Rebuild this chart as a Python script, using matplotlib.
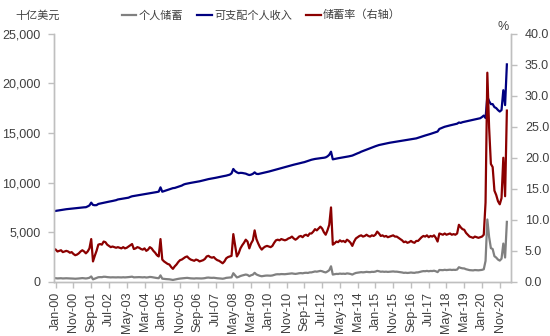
import matplotlib
matplotlib.use("Agg")
import matplotlib.pyplot as plt
import matplotlib.ticker as mticker
from matplotlib.lines import Line2D
import pandas as pd

# Monthly series, Jan 2000 - Mar 2021
months = pd.date_range("2000-01-01", periods=255, freq="MS")

# Personal saving, billions of USD (SAAR)
personal_saving = [
    372, 352, 361, 369, 348, 357, 366, 360, 346, 355, 333, 319,
    328, 344, 367, 383, 368, 346, 372, 416, 551, 256, 324, 387,
    471, 481, 476, 518, 513, 483, 469, 454, 465, 459, 453, 465,
    458, 451, 469, 454, 464, 483, 505, 526, 458, 469, 488, 481,
    465, 458, 477, 443, 462, 500, 484, 450, 423, 389, 373, 657,
    327, 302, 285, 269, 261, 225, 198, 237, 267, 307, 337, 349,
    372, 394, 406, 378, 359, 350, 341, 362, 353, 334, 346, 357,
    380, 423, 437, 415, 406, 418, 388, 368, 359, 339, 319, 352,
    407, 430, 443, 459, 875, 658, 452, 504, 593, 647, 689, 741,
    703, 581, 670, 729, 915, 751, 673, 610, 569, 604, 628, 641,
    633, 625, 650, 709, 758, 772, 764, 790, 782, 775, 790, 816,
    832, 859, 826, 805, 832, 871, 887, 865, 905, 921, 901, 956,
    959, 1000, 1052, 1029, 1069, 1109, 1073, 1000, 953, 1049, 1178, 1573,
    740, 768, 807, 797, 836, 813, 828, 805, 857, 834, 799, 738,
    832, 902, 932, 963, 983, 962, 981, 1013, 992, 983, 1016, 1006,
    1038, 1111, 1075, 1023, 1040, 1015, 1032, 1007, 1023, 1039, 1055, 1029,
    1031, 1005, 978, 952, 911, 928, 901, 917, 946, 921, 911, 954,
    958, 1005, 1053, 1086, 1076, 1109, 1069, 1103, 1092, 1127, 1071, 984,
    1201, 1192, 1182, 1218, 1191, 1210, 1229, 1201, 1220, 1207, 1243, 1477,
    1409, 1367, 1354, 1277, 1231, 1186, 1172, 1159, 1194, 1181, 1167, 1187,
    1212, 1273, 2112, 6285, 4532, 3401, 3312, 2587, 2450, 2249, 2144, 2336,
    3860, 2456, 6044,
]

# Disposable personal income, billions of USD (SAAR)
disposable_income = [
    7150, 7180, 7210, 7240, 7260, 7290, 7320, 7340, 7360, 7390, 7400, 7420,
    7450, 7470, 7490, 7500, 7510, 7520, 7600, 7700, 7980, 7750, 7720, 7730,
    7850, 7890, 7930, 7970, 8010, 8050, 8080, 8110, 8150, 8190, 8230, 8300,
    8330, 8350, 8380, 8410, 8440, 8480, 8560, 8620, 8650, 8680, 8720, 8750,
    8770, 8800, 8830, 8860, 8890, 8930, 8960, 8990, 9010, 9050, 9090, 9520,
    9080, 9140, 9200, 9260, 9320, 9380, 9440, 9460, 9520, 9580, 9640, 9700,
    9800, 9860, 9900, 9940, 9970, 10000, 10030, 10060, 10090, 10130, 10170, 10210,
    10260, 10310, 10350, 10380, 10410, 10450, 10480, 10520, 10560, 10600, 10630, 10660,
    10700, 10750, 10800, 10930, 11370, 11150, 11030, 10950, 10980, 10970, 10930, 10900,
    10820, 10760, 10800, 10880, 11030, 10880, 10860, 10900, 10940, 10980, 11020, 11060,
    11110, 11160, 11200, 11260, 11310, 11350, 11400, 11450, 11500, 11560, 11610, 11660,
    11720, 11770, 11800, 11840, 11880, 11930, 11980, 12020, 12060, 12120, 12180, 12250,
    12300, 12340, 12380, 12400, 12430, 12460, 12480, 12500, 12540, 12640, 12800, 13110,
    12340, 12380, 12420, 12450, 12480, 12510, 12540, 12580, 12610, 12640, 12680, 12720,
    12800, 12880, 12950, 13020, 13110, 13180, 13260, 13330, 13400, 13470, 13540, 13600,
    13660, 13720, 13780, 13820, 13860, 13900, 13940, 13980, 14010, 14040, 14070, 14100,
    14120, 14150, 14180, 14210, 14240, 14270, 14300, 14330, 14360, 14390, 14420, 14450,
    14510, 14570, 14620, 14680, 14740, 14790, 14850, 14900, 14960, 15020, 15080, 15140,
    15400, 15480, 15550, 15620, 15670, 15720, 15760, 15800, 15840, 15880, 15930, 16050,
    16010, 16080, 16120, 16160, 16200, 16240, 16280, 16320, 16360, 16400, 16440, 16480,
    16600, 16750, 16500, 18650, 18200, 17900, 17900, 17600, 17500, 17300, 17150, 17300,
    19300, 17800, 21900,
]

# Personal saving rate, % (right axis)
saving_rate = [
    5.2, 4.9, 5.0, 5.1, 4.8, 4.9, 5.0, 4.9, 4.7, 4.8, 4.5, 4.3,
    4.4, 4.6, 4.9, 5.1, 4.9, 4.6, 4.9, 5.4, 6.9, 3.3, 4.2, 5.0,
    6.0, 6.1, 6.0, 6.5, 6.4, 6.0, 5.8, 5.6, 5.7, 5.6, 5.5, 5.6,
    5.5, 5.4, 5.6, 5.4, 5.5, 5.7, 5.9, 6.1, 5.3, 5.4, 5.6, 5.5,
    5.3, 5.2, 5.4, 5.0, 5.2, 5.6, 5.4, 5.0, 4.7, 4.3, 4.1, 6.9,
    3.6, 3.3, 3.1, 2.9, 2.8, 2.4, 2.1, 2.5, 2.8, 3.2, 3.5, 3.6,
    3.8, 4.0, 4.1, 3.8, 3.6, 3.5, 3.4, 3.6, 3.5, 3.3, 3.4, 3.5,
    3.7, 4.1, 4.2, 4.0, 3.9, 4.0, 3.7, 3.5, 3.4, 3.2, 3.0, 3.3,
    3.8, 4.0, 4.1, 4.2, 7.7, 5.9, 4.1, 4.6, 5.4, 5.9, 6.3, 6.8,
    6.5, 5.4, 6.2, 6.7, 8.3, 6.9, 6.2, 5.6, 5.2, 5.5, 5.7, 5.8,
    5.7, 5.6, 5.8, 6.3, 6.7, 6.8, 6.7, 6.9, 6.8, 6.7, 6.8, 7.0,
    7.1, 7.3, 7.0, 6.8, 7.0, 7.3, 7.4, 7.2, 7.5, 7.6, 7.4, 7.8,
    7.8, 8.1, 8.5, 8.3, 8.6, 8.9, 8.6, 8.0, 7.6, 8.3, 9.2, 12.0,
    6.0, 6.2, 6.5, 6.4, 6.7, 6.5, 6.6, 6.4, 6.8, 6.6, 6.3, 5.8,
    6.5, 7.0, 7.2, 7.4, 7.5, 7.3, 7.4, 7.6, 7.4, 7.3, 7.5, 7.4,
    7.6, 8.1, 7.8, 7.4, 7.5, 7.3, 7.4, 7.2, 7.3, 7.4, 7.5, 7.3,
    7.3, 7.1, 6.9, 6.7, 6.4, 6.5, 6.3, 6.4, 6.6, 6.4, 6.3, 6.6,
    6.6, 6.9, 7.2, 7.4, 7.3, 7.5, 7.2, 7.4, 7.3, 7.5, 7.1, 6.5,
    7.8, 7.7, 7.6, 7.8, 7.6, 7.7, 7.8, 7.6, 7.7, 7.6, 7.8, 9.2,
    8.8, 8.5, 8.4, 7.9, 7.6, 7.3, 7.2, 7.1, 7.3, 7.2, 7.1, 7.2,
    7.3, 7.6, 12.8, 33.7, 24.9, 19.0, 18.5, 14.7, 14.0, 13.0, 12.5, 13.5,
    20.0, 13.8, 27.6,
]

series_names = ["个人储蓄", "可支配个人收入", "储蓄率（右轴）"]
left_unit = "十亿美元"
right_unit = "%"
tick_every = 10
tick_labels = [d.strftime("%b-%y") for d in months[::tick_every]]

GREY = "#808080"
NAVY = "#000080"
MAROON = "#8B0000"
SPINE = "#BFBFBF"
TEXT = "#404040"
CJK = ["Noto Sans CJK SC", "DejaVu Sans"]

plt.rcParams["font.family"] = ["Liberation Sans", "DejaVu Sans"]

fig = plt.figure(figsize=(5.5, 3.36), dpi=100)
ax = fig.add_axes([0.099, 0.161, 0.830, 0.739])
ax2 = ax.twinx()

x = list(range(len(months)))
ax.plot(x, personal_saving, color=GREY, lw=1.6, solid_joinstyle="round")
ax.plot(x, disposable_income, color=NAVY, lw=1.6, solid_joinstyle="round")
ax2.plot(x, saving_rate, color=MAROON, lw=1.6, solid_joinstyle="round")

ax.set_xlim(-0.7, 256.3)
ax.set_ylim(0, 25000)
ax2.set_ylim(0, 40)
ax.yaxis.set_major_locator(mticker.MultipleLocator(5000))
ax.yaxis.set_major_formatter(mticker.FuncFormatter(lambda v, p: f"{int(v):,}"))
ax2.yaxis.set_major_locator(mticker.MultipleLocator(5))
ax2.yaxis.set_major_formatter(mticker.FuncFormatter(lambda v, p: f"{v:.1f}"))

ax.set_xticks(x[::tick_every])
ax.set_xticklabels(tick_labels, rotation=90)

for a in (ax, ax2):
    for side in ("top",):
        a.spines[side].set_visible(False)
    for side in ("left", "right", "bottom"):
        a.spines[side].set_color(SPINE)
        a.spines[side].set_linewidth(1.0)
    a.tick_params(colors=SPINE, labelcolor=TEXT, labelsize=9, length=4, width=1.0)
ax.tick_params(axis="y", pad=6)
ax2.tick_params(axis="y", pad=6)
ax.tick_params(axis="x", pad=3)

handles = [
    Line2D([], [], color=GREY, lw=1.6),
    Line2D([], [], color=NAVY, lw=1.6),
    Line2D([], [], color=MAROON, lw=1.6),
]
leg = fig.legend(handles, series_names, loc="center", bbox_to_anchor=(0.475, 0.955),
                 ncol=3, frameon=False, handlelength=1.3, handletextpad=0.2,
                 columnspacing=1.3, prop={"family": CJK, "size": 8})
for t in leg.get_texts():
    t.set_color(TEXT)

fig.text(0.028, 0.955, left_unit, family=CJK, fontsize=8, color=TEXT,
         ha="left", va="center")
fig.text(0.915, 0.921, right_unit, fontsize=9, color=TEXT, ha="center", va="center")

fig.savefig("out.png", dpi=100)
